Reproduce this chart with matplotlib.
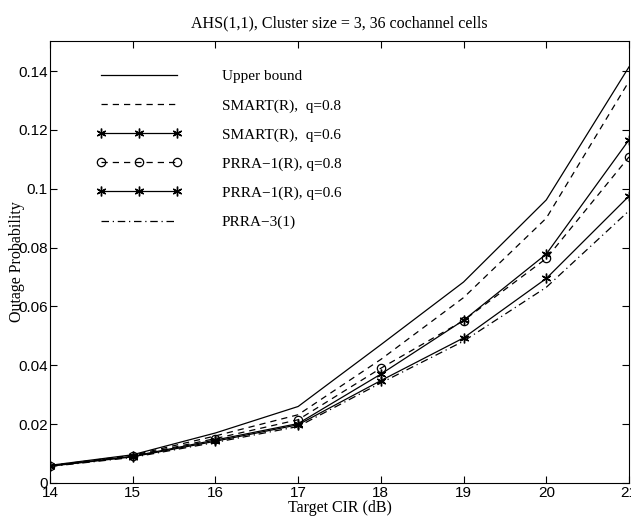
import matplotlib

matplotlib.use("Agg")

import matplotlib.pyplot as plt

# Target CIR (dB)
cir = [14, 15, 16, 17, 18, 19, 20, 21]

upper_bound = [0.0060, 0.0096, 0.0170, 0.0260, 0.0470, 0.0683, 0.0962, 0.1414]
smart_08 = [0.0059, 0.0094, 0.0160, 0.0232, 0.0420, 0.0630, 0.0900, 0.1365]
smart_06 = [0.0058, 0.0091, 0.0146, 0.0202, 0.0370, 0.0553, 0.0778, 0.1166]
prra1_08 = [0.0058, 0.0092, 0.0151, 0.0215, 0.0390, 0.0552, 0.0763, 0.1108]
prra1_06 = [0.0057, 0.0089, 0.0142, 0.0198, 0.0348, 0.0493, 0.0695, 0.0975]
prra3 = [0.0056, 0.0087, 0.0138, 0.0192, 0.0340, 0.0482, 0.0665, 0.0925]

labels = [
    "Upper bound",
    "SMART(R),  q=0.8",
    "SMART(R),  q=0.6",
    "PRRA\u22121(R), q=0.8",
    "PRRA\u22121(R), q=0.6",
    "PRRA\u22123(1)",
]

serif = "Liberation Serif"
sans = "Liberation Sans"
star = (6, 2, 0)

fig = plt.figure(figsize=(6.31, 5.19), dpi=100)
ax = fig.add_axes([50 / 631, 36 / 519, 579 / 631, 442 / 519])

lw = 0.9
ax.plot(cir, upper_bound, color="black", lw=lw, ls="-", label=labels[0])
ax.plot(cir, smart_08, color="black", lw=lw, ls=(0, (5, 4)), label=labels[1])
ax.plot(cir, smart_06, color="black", lw=lw, ls="-", marker=star, ms=7,
        mew=1.0, label=labels[2])
ax.plot(cir, prra1_08, color="black", lw=lw, ls=(0, (5, 4)), marker="o",
        ms=6, mfc="none", mew=0.9, label=labels[3])
ax.plot(cir, prra1_06, color="black", lw=lw, ls="-", marker=star, ms=7,
        mew=1.0, label=labels[4])
ax.plot(cir, prra3, color="black", lw=lw, ls=(0, (6, 3, 1, 3)), label=labels[5])

ax.set_xlim(14, 21)
ax.set_ylim(0, 0.1502)
ax.set_xticks(cir)
ax.set_yticks([0, 0.02, 0.04, 0.06, 0.08, 0.1, 0.12, 0.14])
ax.set_yticklabels(["0", "0.02", "0.04", "0.06", "0.08", "0.1", "0.12", "0.14"])
ax.tick_params(direction="in", top=True, right=True, length=5, width=0.8,
               labelsize=11, pad=2)
ax.tick_params(axis="y", pad=1.5)
for lab in ax.get_xticklabels() + ax.get_yticklabels():
    lab.set_fontfamily(sans)
for sp in ax.spines.values():
    sp.set_linewidth(0.8)

ax.set_title("AHS(1,1), Cluster size = 3, 36 cochannel cells",
             fontfamily=serif, fontsize=11.5, pad=10)
ax.set_xlabel("Target CIR (dB)", fontfamily=serif, fontsize=11.5, labelpad=0)
ax.set_ylabel("Outage Probability", fontfamily=serif, fontsize=11.5)
ax.yaxis.set_label_coords(-0.044, 0.5)

leg = ax.legend(loc="upper left", bbox_to_anchor=(0.08, 0.935), frameon=False,
                prop={"family": serif, "size": 11}, handlelength=5.6,
                handletextpad=2.6, labelspacing=1.0, borderpad=0,
                borderaxespad=0, numpoints=3)

fig.savefig("out.png", dpi=100)
